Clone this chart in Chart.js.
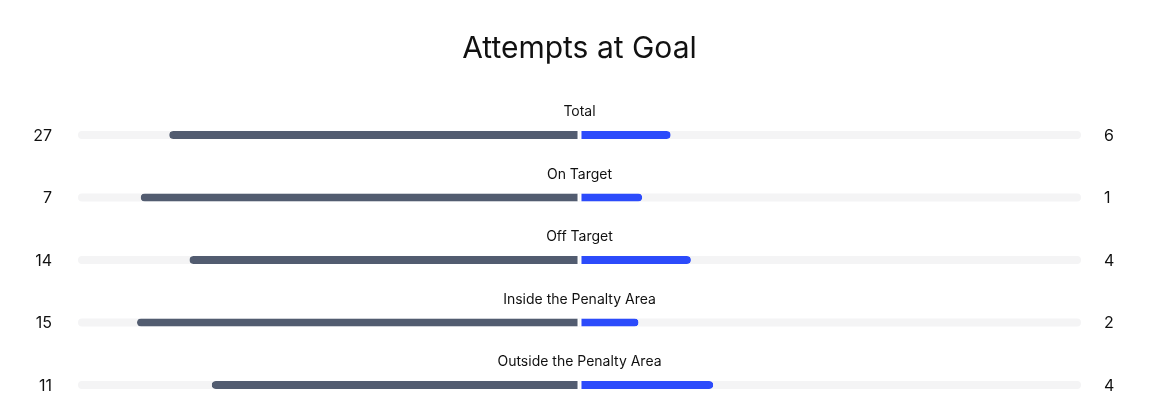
<!DOCTYPE html>
<html>
<head>
<meta charset="utf-8">
<script src="https://cdn.jsdelivr.net/npm/chart.js@4"></script>
<style>
body{margin:0;background:#fff;}
#wrap{width:1154px;height:414px;position:relative;}
</style>
</head>
<body>
<div id="wrap"><canvas id="chart"></canvas></div>
<script>
var categories=['Total','On Target','Off Target','Inside the Penalty Area','Outside the Penalty Area'];
var homeValues=[27,7,14,15,11];
var awayValues=[6,1,4,2,4];

// each row is split by the share of the two teams
var homeShare=homeValues.map(function(v,i){return [-v/(v+awayValues[i]),0];});
var awayShare=awayValues.map(function(v,i){return [0,v/(v+homeValues[i])];});
var track=categories.map(function(){return [-1,1];});

var labelsPlugin={
    id:'rowlabels',
    afterDatasetsDraw:function(chart){
        var ctx=chart.ctx, xs=chart.scales.x, ys=chart.scales.y, area=chart.chartArea;
        var cx=xs.getPixelForValue(0);
        ctx.save();
        ctx.textBaseline='middle';
        categories.forEach(function(c,i){
            var y=ys.getPixelForValue(i);
            ctx.fillStyle='#111';
            ctx.font='14px Inter';
            ctx.textAlign='center';
            ctx.fillText(c,cx,y-23);
            ctx.font='16px Inter';
            ctx.textAlign='right';
            ctx.fillText(String(homeValues[i]),area.left-26,y+1);
            ctx.textAlign='left';
            ctx.fillText(String(awayValues[i]),area.right+23,y+1);
        });
        ctx.restore();
    }
};

var chartcanvas=document.getElementById('chart');
var mychart=new Chart(chartcanvas.getContext('2d'),{
    type:'bar',
    data:{
        labels:categories,
        datasets:[{
            data:homeShare,
            backgroundColor:'#525c70',
            borderColor:'#ffffff',
            borderWidth:{right:2,left:0,top:0,bottom:0},
            borderSkipped:false,
            borderRadius:{topLeft:4,bottomLeft:4,topRight:0,bottomRight:0},
            barThickness:8,
            grouped:false,
            inflateAmount:0,
            clip:false
        },{
            data:awayShare,
            backgroundColor:'#2c4bfb',
            borderColor:'#ffffff',
            borderWidth:{left:2,right:0,top:0,bottom:0},
            borderSkipped:false,
            borderRadius:{topLeft:0,bottomLeft:0,topRight:4,bottomRight:4},
            barThickness:8,
            grouped:false,
            inflateAmount:0,
            clip:false
        },{
            data:track,
            backgroundColor:'#f4f4f5',
            borderWidth:0,
            borderSkipped:false,
            borderRadius:4,
            barThickness:8,
            grouped:false,
            inflateAmount:0,
            clip:false,
            order:2
        }]
    },
    options:{
        indexAxis:'y',
        responsive:true,
        maintainAspectRatio:false,
        animation:false,
        layout:{padding:{left:78,right:73,top:0,bottom:29}},
        scales:{
            x:{display:false,min:-1,max:1},
            y:{display:false,offset:false}
        },
        plugins:{
            legend:{display:false},
            tooltip:{enabled:false},
            title:{
                display:true,
                text:'Attempts at Goal',
                color:'#111',
                font:{family:'Inter',size:30,weight:'normal'},
                padding:{top:31,bottom:68}
            }
        }
    },
    plugins:[labelsPlugin]
});
</script>
</body>
</html>
